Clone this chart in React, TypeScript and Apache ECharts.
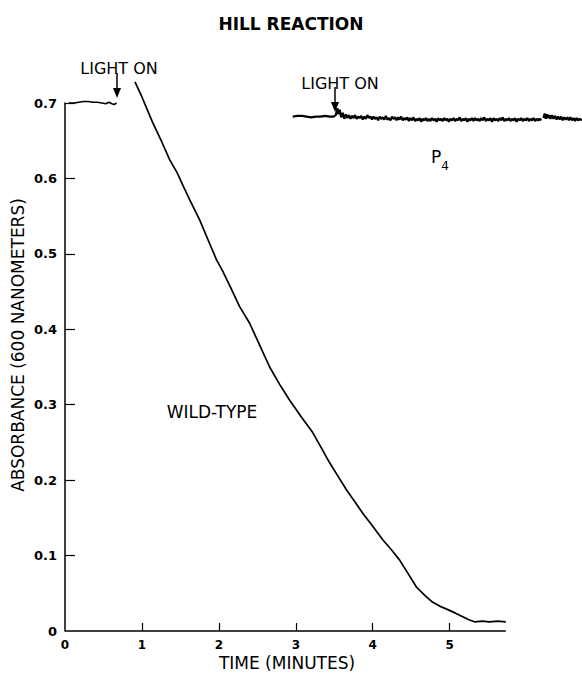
import React, { useEffect, useRef } from "react";
import * as echarts from "echarts";

const xTicks = [0, 1, 2, 3, 4, 5];
const yTicks = [0, 0.1, 0.2, 0.3, 0.4, 0.5, 0.6, 0.7];
const xAxisEnd = 5.73; // drawn end of the time axis line
const recordEnd = 6.72; // end of the P4 recording (extends past the axis)

// Wild-type: baseline before light on
const wildTypeDark: [number, number][] = [
  [0.05, 0.7], [0.12, 0.7], [0.18, 0.701], [0.24, 0.702], [0.3, 0.702],
  [0.36, 0.701], [0.42, 0.701], [0.48, 0.7], [0.53, 0.699], [0.57, 0.701],
  [0.61, 0.699], [0.64, 0.698], [0.67, 0.7],
];

// Wild-type: after light on (decay)
const wildTypeLight: [number, number][] = [
  [0.91, 0.728], [1.0, 0.708], [1.14, 0.674], [1.26, 0.648], [1.36, 0.625],
  [1.46, 0.607], [1.54, 0.589], [1.62, 0.572], [1.75, 0.545], [1.87, 0.516],
  [1.97, 0.492], [2.04, 0.479], [2.16, 0.454], [2.27, 0.43], [2.4, 0.408],
  [2.53, 0.379], [2.66, 0.35], [2.79, 0.327], [2.92, 0.306], [3.07, 0.284],
  [3.22, 0.263], [3.33, 0.243], [3.44, 0.223], [3.55, 0.205], [3.66, 0.187],
  [3.77, 0.171], [3.87, 0.156], [4.0, 0.139], [4.13, 0.121], [4.24, 0.108],
  [4.35, 0.094], [4.46, 0.076], [4.57, 0.058], [4.68, 0.047], [4.78, 0.038],
  [4.87, 0.033], [4.96, 0.029], [5.07, 0.024], [5.17, 0.019], [5.25, 0.015],
  [5.33, 0.012], [5.42, 0.013], [5.52, 0.012], [5.62, 0.013], [5.73, 0.012],
];

// P4 mutant trace (dark baseline, light on at ~3.5 min)
const p4Trace: [number, number][] = [
  [2.96, 0.682], [3.02, 0.683], [3.08, 0.683], [3.14, 0.682], [3.2, 0.681],
  [3.26, 0.682], [3.32, 0.682], [3.38, 0.683], [3.44, 0.682], [3.49, 0.682],
  [3.52, 0.684], [3.54, 0.693], [3.555, 0.685], [3.57, 0.691], [3.59, 0.681],
  [3.61, 0.687], [3.63, 0.679], [3.65, 0.685], [3.67, 0.68], [3.69, 0.684],
  [3.71, 0.679], [3.73, 0.683], [3.75, 0.68], [3.77, 0.684], [3.79, 0.679],
  [3.81, 0.682], [3.83, 0.68], [3.85, 0.683], [3.87, 0.678], [3.89, 0.682],
  [3.91, 0.679], [3.93, 0.684], [3.95, 0.68], [3.97, 0.682], [3.99, 0.678],
  [4.01, 0.682], [4.03, 0.679], [4.05, 0.681], [4.07, 0.677], [4.09, 0.682],
  [4.11, 0.679], [4.13, 0.681], [4.15, 0.678], [4.17, 0.683], [4.19, 0.678],
  [4.21, 0.68], [4.23, 0.677], [4.25, 0.682], [4.27, 0.679], [4.29, 0.681],
  [4.31, 0.677], [4.33, 0.681], [4.35, 0.678], [4.37, 0.682], [4.39, 0.677],
  [4.41, 0.68], [4.43, 0.678], [4.45, 0.681], [4.47, 0.676], [4.49, 0.68],
  [4.51, 0.677], [4.53, 0.681], [4.55, 0.676], [4.57, 0.679], [4.59, 0.677],
  [4.61, 0.68], [4.63, 0.675], [4.65, 0.679], [4.67, 0.677], [4.69, 0.68],
  [4.71, 0.676], [4.73, 0.679], [4.75, 0.676], [4.77, 0.68], [4.79, 0.677],
  [4.81, 0.679], [4.83, 0.675], [4.85, 0.68], [4.87, 0.677], [4.89, 0.679],
  [4.91, 0.676], [4.93, 0.68], [4.95, 0.677], [4.97, 0.679], [4.99, 0.675],
  [5.01, 0.679], [5.03, 0.677], [5.05, 0.68], [5.07, 0.676], [5.09, 0.679],
  [5.11, 0.677], [5.13, 0.681], [5.15, 0.676], [5.17, 0.679], [5.19, 0.677],
  [5.21, 0.68], [5.23, 0.675], [5.25, 0.679], [5.27, 0.677], [5.29, 0.68],
  [5.31, 0.676], [5.33, 0.68], [5.35, 0.677], [5.37, 0.679], [5.39, 0.676],
  [5.41, 0.68], [5.43, 0.677], [5.45, 0.681], [5.47, 0.676], [5.49, 0.679],
  [5.51, 0.677], [5.53, 0.68], [5.55, 0.675], [5.57, 0.68], [5.59, 0.677],
  [5.61, 0.679], [5.63, 0.676], [5.65, 0.68], [5.67, 0.677], [5.69, 0.681],
  [5.71, 0.676], [5.73, 0.679], [5.75, 0.677], [5.77, 0.68], [5.79, 0.676],
  [5.81, 0.679], [5.83, 0.677], [5.85, 0.68], [5.87, 0.675], [5.89, 0.679],
  [5.91, 0.677], [5.93, 0.68], [5.95, 0.676], [5.97, 0.679], [5.99, 0.677],
  [6.01, 0.68], [6.03, 0.676], [6.05, 0.679], [6.07, 0.677], [6.09, 0.68],
  [6.11, 0.676], [6.13, 0.679], [6.15, 0.677], [6.17, 0.679], [6.19, 0.677],
];

const p4TraceLate: [number, number][] = [
  [6.22, 0.68], [6.235, 0.686], [6.25, 0.679], [6.265, 0.685], [6.28, 0.68],
  [6.295, 0.684], [6.31, 0.679], [6.33, 0.684], [6.35, 0.679], [6.37, 0.683],
  [6.39, 0.678], [6.41, 0.682], [6.43, 0.678], [6.45, 0.682], [6.47, 0.677],
  [6.49, 0.681], [6.51, 0.678], [6.53, 0.681], [6.55, 0.677], [6.57, 0.681],
  [6.59, 0.677], [6.61, 0.68], [6.63, 0.676], [6.65, 0.68], [6.67, 0.677],
  [6.69, 0.679], [6.72, 0.677],
];

const FONT = '"DejaVu Sans", "Liberation Sans", sans-serif';
const INK = "#000";

function lineSeries(data: [number, number][], width: number, extra: object = {}) {
  return {
    type: "line",
    data,
    showSymbol: false,
    symbol: "none",
    clip: false,
    smooth: false,
    lineStyle: { color: INK, width },
    silent: true,
    ...extra,
  };
}

function text(x: number, y: number, str: string, size: number, weight = "normal", rotation = 0) {
  return {
    type: "text",
    x,
    y,
    rotation,
    style: {
      text: str,
      fill: INK,
      fontSize: size,
      fontWeight: weight,
      fontFamily: FONT,
      align: "center",
      verticalAlign: "middle",
    },
  };
}

function arrow(x: number, y1: number, y2: number) {
  return [
    {
      type: "line",
      shape: { x1: x, y1, x2: x, y2: y2 - 8 },
      style: { stroke: INK, lineWidth: 1.5 },
    },
    {
      type: "polygon",
      shape: { points: [[x - 4, y2 - 10], [x + 4, y2 - 10], [x, y2]] },
      style: { fill: INK },
    },
  ];
}

export default function App() {
  const ref = useRef<HTMLDivElement>(null);

  useEffect(() => {
    if (!ref.current) return;
    const chart = echarts.init(ref.current, undefined, { renderer: "svg" });
    chart.setOption({
      animation: false,
      backgroundColor: "#fff",
      grid: { left: 65, top: 103, width: 517, height: 528 },
      xAxis: {
        type: "value",
        min: 0,
        max: recordEnd,
        interval: 1,
        axisLine: { show: false },
        axisTick: {
          show: true,
          inside: true,
          length: 8,
          customValues: xTicks.slice(1),
          lineStyle: { color: INK, width: 1.2 },
        },
        axisLabel: {
          customValues: xTicks,
          color: INK,
          fontSize: 12,
          fontWeight: "bold",
          fontFamily: FONT,
          margin: 8,
        },
        splitLine: { show: false },
      },
      yAxis: {
        type: "value",
        min: 0,
        max: 0.7,
        interval: 0.1,
        axisLine: { show: true, onZero: false, lineStyle: { color: INK, width: 1.5 } },
        axisTick: {
          show: true,
          inside: true,
          length: 10,
          customValues: yTicks.slice(1),
          lineStyle: { color: INK, width: 1.2 },
        },
        axisLabel: {
          customValues: yTicks,
          color: INK,
          fontSize: 13,
          fontWeight: "bold",
          fontFamily: FONT,
          margin: 8,
          formatter: (v: number) => (v === 0 ? "0" : v.toFixed(1)),
        },
        splitLine: { show: false },
      },
      series: [
        lineSeries(wildTypeDark, 1.6, {
          markLine: {
            silent: true,
            symbol: ["none", "none"],
            label: { show: false },
            lineStyle: { color: INK, width: 1.5, type: "solid" },
            data: [[{ coord: [0, 0] }, { coord: [xAxisEnd, 0] }]],
          },
        }),
        lineSeries(wildTypeLight, 1.7),
        lineSeries(p4Trace, 2.2),
        lineSeries(p4TraceLate, 2.2),
      ],
      graphic: [
        text(291, 24, "HILL REACTION", 17, "bold"),
        text(119, 68, "LIGHT ON", 16),
        ...arrow(117, 73, 98),
        text(340, 83, "LIGHT ON", 16),
        ...arrow(335, 87, 112),
        text(212, 412, "WILD-TYPE", 17),
        text(436, 157, "P", 17),
        text(445, 166, "4", 12),
        text(18, 345, "ABSORBANCE (600 NANOMETERS)", 17, "normal", Math.PI / 2),
        text(287, 663, "TIME (MINUTES)", 17),
      ],
    });
    return () => chart.dispose();
  }, []);

  return (
    <div
      ref={ref}
      style={{ position: "fixed", left: 0, top: 0, width: 582, height: 674, background: "#fff" }}
    />
  );
}
